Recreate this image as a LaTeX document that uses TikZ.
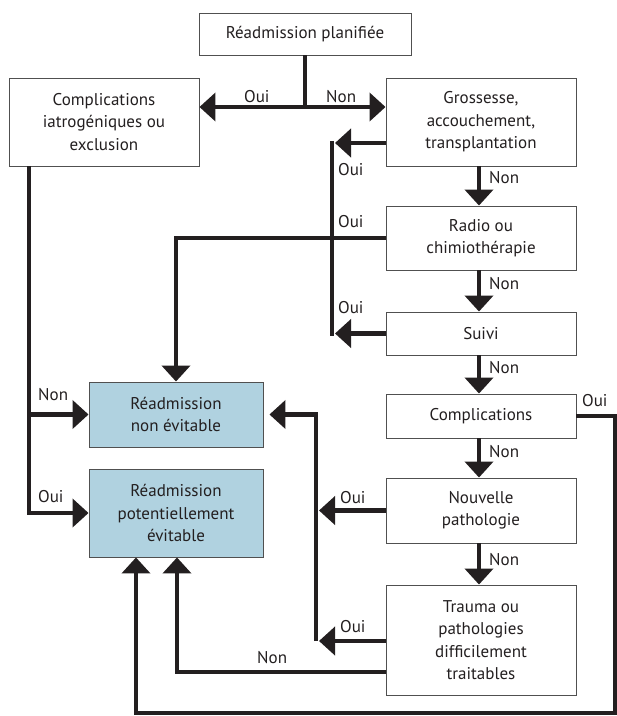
\documentclass[tikz,border=0pt]{standalone}
\usepackage{fontspec}
\setmainfont{PT Sans}
\usetikzlibrary{arrows.meta}
\definecolor{ink}{RGB}{35,31,32}
\definecolor{boxline}{RGB}{80,80,80}
\definecolor{paleblue}{RGB}{176,210,224}
\begin{document}
\begin{tikzpicture}[x=1pt,y=-1pt,
  every node/.style={font=\fontsize{17}{22.5}\selectfont, text=ink},
  box/.style={draw=boxline, line width=0.9pt, fill=white, align=center, inner sep=0pt, minimum width=190pt},
  bluebox/.style={box, fill=paleblue, minimum width=174pt},
  line/.style={draw=ink, line width=4.5pt},
  arr/.style={line, -{Triangle[length=16pt,width=28pt]}},
  lbl/.style={anchor=west, inner sep=0pt}
]
\useasboundingbox (0,0) rectangle (617,716);

% boxes
\node[box, minimum width=212pt, minimum height=42pt] (top) at (305,34) {Réadmission planifiée};
\node[box, minimum height=88pt] (left) at (104,122) {Complications\\iatrogéniques ou\\exclusion};
\node[box, minimum height=88pt] (gros) at (481,122) {Grossesse,\\accouchement,\\transplantation};
\node[box, minimum height=64pt] (radio) at (481,238) {Radio ou\\chimiothérapie};
\node[box, minimum height=43pt] (suivi) at (481,333.5) {Suivi};
\node[box, minimum height=44pt] (compl) at (481,416) {Complications};
\node[box, minimum height=65pt] (nouv) at (481,510.5) {Nouvelle\\pathologie};
\node[box, minimum height=110pt] (trauma) at (481,640) {Trauma ou\\pathologies\\difficilement\\traitables};
\node[bluebox, minimum height=65pt] (nonev) at (176,414.5) {Réadmission\\non évitable};
\node[bluebox, minimum height=88pt] (potent) at (176,513) {Réadmission\\potentiellement\\évitable};

% junction coordinates
\coordinate (split) at (305,107);
\coordinate (v1t) at (332,143);
\coordinate (v1b) at (332,333.5);
\coordinate (v2t) at (316,414.5);
\coordinate (v2b) at (316,641);
\coordinate (lj) at (29,414.5);
\coordinate (lb) at (29,513);
\coordinate (r1) at (615,713);

% top split
\draw[line] (top.south) -- (split);
\draw[arr] (split) -- (left.east |- split);
\draw[arr] (split) -- (gros.west |- split);
\node[lbl] (l1) at (244,97) {Oui};
\node[lbl] (l2) at (326,97) {Non};

% chain down
\draw[arr] (gros.south -| 479,0) -- (radio.north -| 479,0);
\draw[arr] (radio.south -| 479,0) -- (suivi.north -| 479,0);
\draw[arr] (suivi.south -| 479,0) -- (compl.north -| 479,0);
\draw[arr] (compl.south -| 479,0) -- (nouv.north -| 479,0);
\draw[arr] (nouv.south -| 479,0) -- (trauma.north -| 479,0);
\node[lbl] (n1) at (489,178) {Non};
\node[lbl] (n2) at (489,284) {Non};
\node[lbl] (n3) at (489,368) {Non};
\node[lbl] (n4) at (489,452) {Non};
\node[lbl] (n5) at (489,560) {Non};

% Oui branches on the right column
\draw[line, line cap=rect] (v1t) -- (v1b);
\draw[arr] (gros.west |- v1t) -- ([xshift=3pt]v1t);
\draw[arr] (suivi.west) -- ([xshift=3pt]v1b);
\node[lbl] (o1) at (338,170) {Oui};
\draw[arr] (radio.west |- 0,238) -| (nonev.north);
\node[lbl] (o2) at (338,222) {Oui};
\node[lbl] (o3) at (338,308) {Oui};

% complications Oui loop
\draw[arr] (compl.east) -| (r1) -| ([xshift=-40pt]potent.south);
\node[lbl] (o4) at (582,401) {Oui};

% nouvelle / trauma Oui
\draw[arr, shorten >=6pt] (v2b) -- (v2t) -- (nonev.east);
\draw[arr] (nouv.west) -- ([xshift=3pt]nouv.west -| v2t);
\draw[arr] (trauma.west |- v2b) -- ([xshift=3pt]v2b);
\node[lbl] (o5) at (340,498) {Oui};
\node[lbl] (o6) at (340,627) {Oui};

% trauma Non
\draw[arr] (trauma.west |- 0,672) -| ([xshift=1pt]potent.south);
\node[lbl] (n6) at (257,658) {Non};

% left column
\draw[arr] (left.south -| lb) |- (potent.west);
\draw[arr] (lj) -- (nonev.west);
\node[lbl] (n7) at (38,395) {Non};
\node[lbl] (o7) at (38,497) {Oui};
\end{tikzpicture}
\end{document}
